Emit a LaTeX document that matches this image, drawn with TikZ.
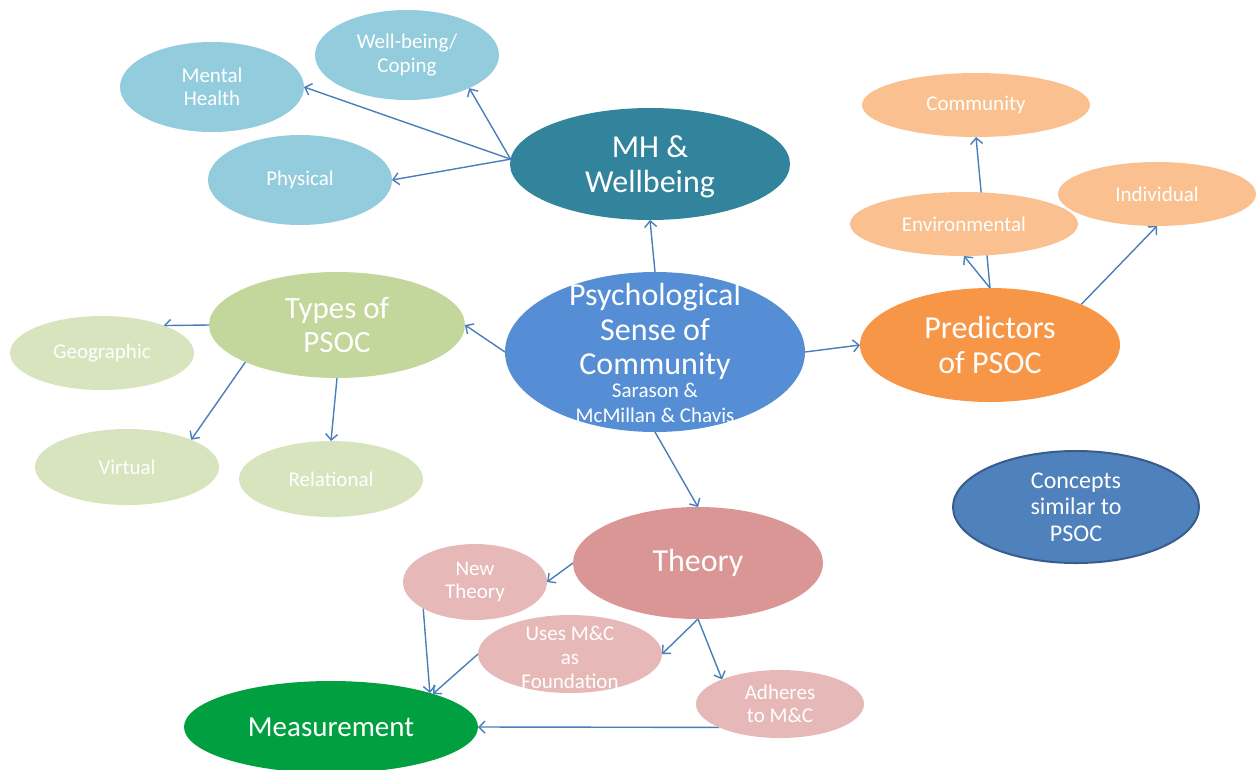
\documentclass[tikz,border=0pt]{standalone}
\usepackage{fontspec}
\setmainfont{Carlito}
\usetikzlibrary{shapes.geometric,arrows.meta}
\pgfdeclarelayer{bg}
\pgfsetlayers{bg,main}
\definecolor{lblue}{HTML}{93CDDD}
\definecolor{teal}{HTML}{31849B}
\definecolor{lorange}{HTML}{FAC090}
\definecolor{orange}{HTML}{F79646}
\definecolor{psocblue}{HTML}{558ED5}
\definecolor{green1}{HTML}{C3D69B}
\definecolor{green2}{HTML}{D7E4BD}
\definecolor{rose1}{HTML}{D99694}
\definecolor{rose2}{HTML}{E6B9B8}
\definecolor{measgreen}{HTML}{00A040}
\definecolor{concblue}{HTML}{4F81BD}
\definecolor{concborder}{HTML}{385D8A}
\definecolor{arrowc}{HTML}{4A7EBB}
\tikzset{
  ell/.style n args={3}{ellipse, fill=#1, minimum width=#2, minimum height=#3,
    inner sep=0pt, outer sep=0pt, text=white, align=center},
  small/.style={font=\fontsize{21}{23.5}\selectfont},
  big/.style={font=\fontsize{32}{35}\selectfont},
  conn/.style={draw=arrowc, line width=1.4pt, -{Straight Barb[length=6pt,width=12pt,line width=1.4pt]}},
  txt/.style={text=white, align=center, inner sep=0pt}
}
\begin{document}
\begin{tikzpicture}[x=1pt,y=-1pt]
\useasboundingbox (0,0) rectangle (1257,769);
\clip (0,0) rectangle (1257,769);
% MH group
\node[ell={lblue}{184pt}{90pt}, small] (mh1) at (212,87) {Mental\\Health};
\node[ell={lblue}{184pt}{90pt}, small] (wb) at (407,55) {Well-being/\\Coping};
\node[ell={lblue}{184pt}{90pt}, small] (ph) at (300,180) {Physical};
\node[ell={teal}{280pt}{112pt}] (mh) at (650,164) {};
\node[txt, big] (mhtext) at (650,167) {MH \&\\Wellbeing};
% predictors group
\node[ell={lorange}{228pt}{64pt}, small] (com) at (976,105) {Community};
\node[ell={lorange}{228pt}{64pt}, small] (env) at (964,224) {Environmental};
\node[ell={lorange}{198pt}{64pt}, small] (ind) at (1157,194) {Individual};
\node[ell={orange}{260pt}{114pt}, big] (pred) at (990,345) {Predictors\\of PSOC};
% central
\node[ell={psocblue}{300pt}{160pt}] (psoc) at (655,352) {};
\node[txt, font=\fontsize{32}{34.5}\selectfont] (psoctext) at (655,353)
  {Psychological\\Sense of\\Community\\[-12pt]{\fontsize{21}{25}\selectfont Sarason \&}\\[-9pt]{\fontsize{21}{25}\selectfont McMillan \& Chavis}};
% types
\node[ell={green1}{256pt}{106pt}, font=\fontsize{31}{34}\selectfont] (types) at (337,325) {Types of\\PSOC};
\node[ell={green2}{184pt}{74pt}, small] (geo) at (102,353) {Geographic};
\node[ell={green2}{184pt}{76pt}, small] (vir) at (127,467) {Virtual};
\node[ell={green2}{184pt}{76pt}, small] (rel) at (331,479) {Relational};
% concepts
\node[ellipse, fill=concblue, draw=concborder, line width=2pt, minimum width=246pt, minimum height=112pt,
  inner sep=0pt, text=white, align=center, font=\fontsize{24}{26.5}\selectfont] (conc) at (1076,507)
  {Concepts\\similar to\\PSOC};
% theory
\node[ell={rose1}{250pt}{112pt}, big] (th) at (698,563) {Theory};
\node[ell={rose2}{144pt}{76pt}, small] (nt) at (475,582) {New\\Theory};
\node[ell={rose2}{184pt}{78pt}] (uses) at (570,654) {};
\node[txt, font=\fontsize{21}{24}\selectfont] (usestext) at (570,657) {Uses M\&C\\as\\Foundation};
\node[ell={rose2}{168pt}{68pt}, small] (adh) at (780,704) {Adheres\\to M\&C};
\node[ell={measgreen}{294pt}{92pt}, font=\fontsize{29}{32}\selectfont] (meas) at (331,727) {Measurement};
% connectors
\begin{pgfonlayer}{bg}
\draw[conn] (mh.178) -- (mh1.east);
\draw[conn] (mh.178) -- (wb.-28);
\draw[conn] (mh.178) -- (ph.east);
\draw[conn] (psoc.north) -- (mh.south);
\draw[conn] (psoc.east) -- (pred.west);
\draw[conn] (pred.north) -- (env.south);
\draw[conn] (pred.north) -- (com.south);
\draw[conn] (pred.24) -- (ind.south);
\draw[conn] (psoc.west) -- (types.east);
\draw[conn] (types.west) -- (geo.24);
\draw[conn] (types.202) -- (vir.23);
\draw[conn] (types.south) -- (rel.north);
\draw[conn] (psoc.south) -- (th.north);
\draw[conn] (th.west) -- (nt.east);
\draw[conn] (th.south) -- (uses.east);
\draw[conn] (th.south) -- (adh.157);
\draw[conn] (nt.207) -- (meas.19);
\draw[conn] (uses.west) -- (meas.18);
\draw[conn] (adh.201) -- (meas.east);
\end{pgfonlayer}
\end{tikzpicture}
\end{document}
